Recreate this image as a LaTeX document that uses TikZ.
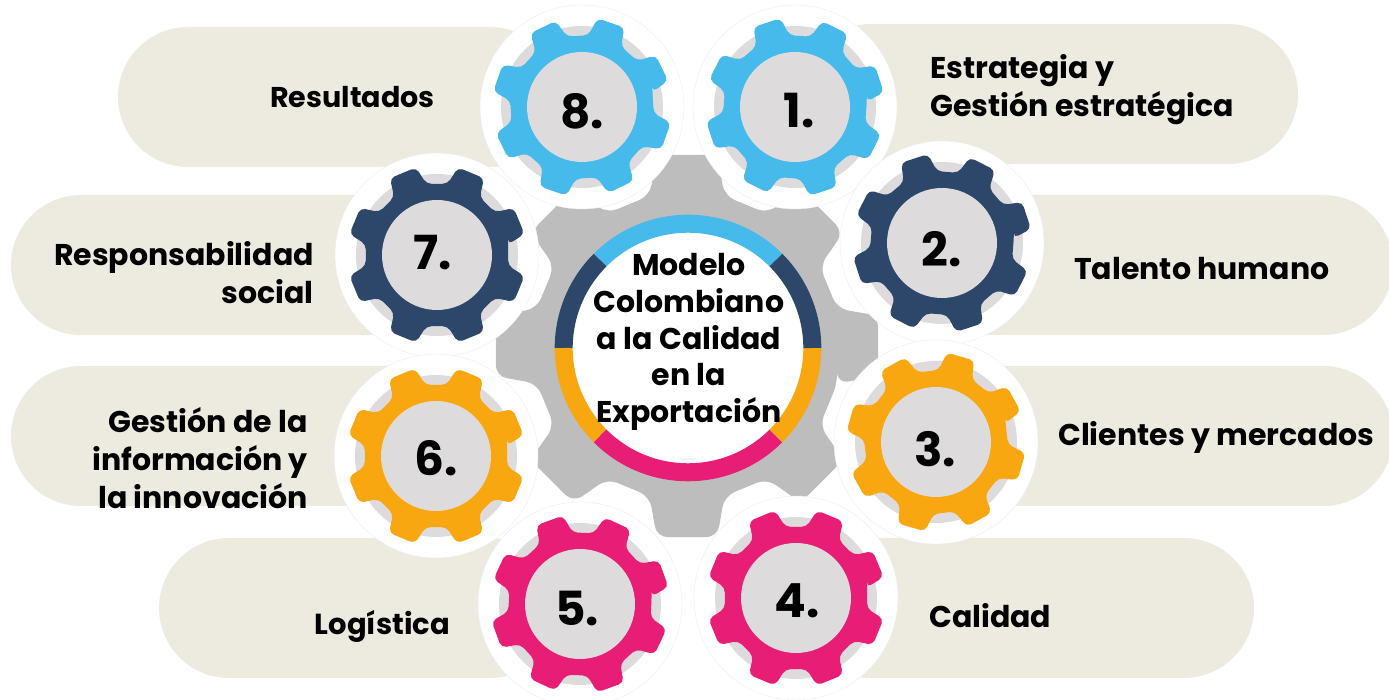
\documentclass[tikz,border=0pt]{standalone}
\usepackage{fontspec}
\setmainfont{Poppins}
\usetikzlibrary{positioning}

\definecolor{cream}{HTML}{EDEBE0}
\definecolor{cblue}{HTML}{47BAEC}
\definecolor{cnavy}{HTML}{2C4769}
\definecolor{corange}{HTML}{F8A710}
\definecolor{cpink}{HTML}{E81E76}
\definecolor{cgray}{HTML}{BDBDBD}
\definecolor{clight}{HTML}{DDDBDC}

\tikzset{
  pill/.style={fill=cream, rounded corners=70pt},
  halo/.style={circle, fill=white, draw=black!7, line width=0.4pt, minimum size=204pt, inner sep=0pt},
  num/.style={font=\fontsize{47}{47}\selectfont\bfseries, text=black, inner sep=0pt},
  lbl/.style={font=\fontsize{30}{38}\selectfont\bfseries, text=black, inner sep=0pt},
  ringseg/.style={line width=18pt},
}

% colour, phase, scale
\newcommand{\gearwheel}[3]{
  \fill[#1, rounded corners=#3*5pt, rotate=#2] (-14:{72*#3})
    \foreach \a in {0,45,...,315} {
      -- (\a-9:{90*#3}) -- (\a+9:{90*#3}) -- (\a+14:{72*#3}) -- (\a+31:{72*#3})
    } -- cycle;
}

% number wheel with halo
\newcommand{\numwheel}[6]{
  \node[halo] (#1) at #2 {};
  \begin{scope}[shift={(#1.center)}]
    \fill[clight] (0,0) circle (81);
    \gearwheel{#3}{#4}{1}
    \fill[clight] (0,0) circle (55);
  \end{scope}
  \node[num] (n#1) at #6 {#5};
}

\begin{document}
\begin{tikzpicture}[x=1pt, y=1pt]
\useasboundingbox (0,0) rectangle (1389,699);

% pills
\fill[pill] (118,532) rectangle (560,672);
\fill[pill] (800,535) rectangle (1298,675);
\fill[pill] (900,364) rectangle (1393,504);
\fill[pill] (11,364) rectangle (480,504);
\fill[pill] (900,193) rectangle (1393,333);
\fill[pill] (11,193) rectangle (480,333);
\fill[pill] (159,21) rectangle (560,161);
\fill[pill] (800,21) rectangle (1254,161);

% central gear
\coordinate (hub) at (688,351);
\begin{scope}[shift={(687,353)}]
  \gearwheel{cgray}{0}{2.15}
\end{scope}

\numwheel{g8}{(582,592)}{cblue}{26}{8.}{(582,588)}
\numwheel{g1}{(795,592)}{cblue}{18.4}{1.}{(799,588)}
\numwheel{g2}{(942,456)}{cnavy}{18}{2.}{(942,450)}
\numwheel{g7}{(437,444)}{cnavy}{22.5}{7.}{(433,446)}
\numwheel{g3}{(936,257)}{corange}{29}{3.}{(935,250)}
\numwheel{g6}{(436,243)}{corange}{22.5}{6.}{(436,241)}
\numwheel{g4}{(796,101)}{cpink}{22.5}{4.}{(797,98)}
\numwheel{g5}{(580,95)}{cpink}{20}{5.}{(577,90)}

% ring
\fill[white] (hub) circle (116);
\draw[ringseg, cblue] ([shift={(45:124.3)}]hub) arc (45:135:124.3);
\draw[ringseg, cnavy] ([shift={(135:124.3)}]hub) arc (135:180:124.3);
\draw[ringseg, corange] ([shift={(180:124.3)}]hub) arc (180:225:124.3);
\draw[ringseg, cpink] ([shift={(225:124.3)}]hub) arc (225:315:124.3);
\draw[ringseg, corange] ([shift={(315:124.3)}]hub) arc (315:360:124.3);
\draw[ringseg, cnavy] ([shift={(0:124.3)}]hub) arc (0:45:124.3);

\node[lbl, align=center, font=\fontsize{30}{36.6}\selectfont\bfseries] (title) at (689,357) {Modelo\\Colombiano\\a la Calidad\\en la\\Exportación};

\node[lbl, anchor=east, font=\fontsize{28.6}{38}\selectfont\bfseries] (l8) at (435,602) {Resultados};
\node[lbl, anchor=west, align=left] (l1) at (930,609) {Estrategia y\\Gestión estratégica};
\node[lbl, anchor=west] (l2) at (1074,430) {Talento humano};
\node[lbl, anchor=west] (l3) at (1058,262) {Clientes y mercados};
\node[lbl, anchor=west] (l4) at (929,83) {Calidad};
\node[lbl, anchor=east, font=\fontsize{29}{38}\selectfont\bfseries] (l5) at (450,73) {Logística};
\node[lbl, anchor=east, align=right] (l6) at (308,241) {Gestión de la\\información y\\la innovación};
\node[lbl, anchor=east, align=right] (l7) at (314,426) {Responsabilidad\\social};
\end{tikzpicture}
\end{document}
